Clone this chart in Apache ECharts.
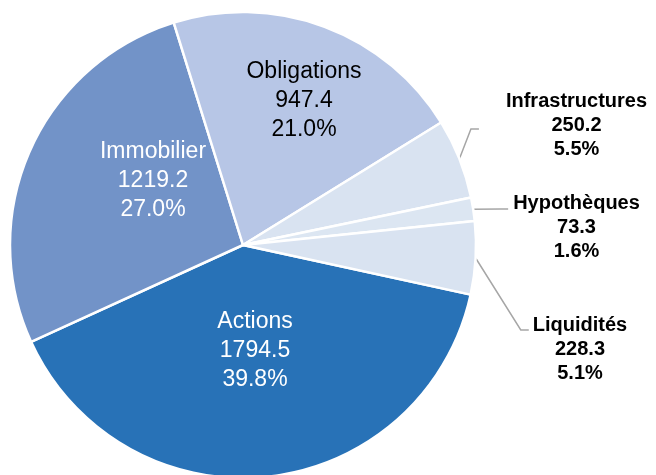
<!DOCTYPE html>
<html>
<head>
<meta charset="utf-8">
<script src="https://cdn.jsdelivr.net/npm/echarts@6/dist/echarts.min.js"></script>
<style>
  html, body { margin: 0; padding: 0; background: #fff; }
  #chart { width: 656px; height: 475px; }
</style>
</head>
<body>
<div id="chart"></div>
<script>
// categories and values, in drawing order (clockwise from the Actions slice)
const categories = ["Actions", "Immobilier", "Obligations", "Infrastructures", "Hypothèques", "Liquidités"];
const values = [1794.5, 1219.2, 947.4, 250.2, 73.3, 228.3];

const sliceColors = ["#2872b7", "#7293c8", "#b7c6e6", "#d9e3f1", "#dce6f2", "#d9e3f1"];
// where each label box is centred; for the outer ones that is where the leader line meets it
const labelSpots = [[255, 351], [153, 181], [304, 101], [563, 129], [574, 209], [578, 330]];
// padding of the outer labels, so the leader line stops short of the text
const outerPadding = [null, null, null, [0, 0, 8, 27], [0, 0, 0, 5], [0, 0, 0, 4]];
// blank space above the outer text, so the line meets the first line of text
const topSpacer = [0, 0, 0, 0, 36, 38];
const innerText = ["#fff", "#fff", "#000"];

const chart = echarts.init(document.getElementById("chart"));

const data = categories.map(function (name, i) {
  const item = { name: name, value: values[i], itemStyle: { color: sliceColors[i] } };
  if (outerPadding[i]) {
    item.label = {
      position: "outside",
      color: "#000",
      fontWeight: "bold",
      fontSize: 20,
      lineHeight: 24,
      padding: outerPadding[i],
      backgroundColor: "rgba(255,255,255,0)",
      rich: { s: { fontSize: 4, lineHeight: topSpacer[i] } }
    };
    item.labelLine = { show: true };
  } else {
    item.label = {
      position: "inside",
      color: innerText[i],
      fontSize: 23,
      lineHeight: 29
    };
    item.labelLine = { show: false };
  }
  return item;
});

chart.setOption({
  animation: false,
  series: [
    {
      type: "pie",
      center: [243, 245],
      radius: 233,
      startAngle: -12.3,
      clockwise: true,
      avoidLabelOverlap: false,
      percentPrecision: 1,
      itemStyle: { borderColor: "#fff", borderWidth: 2.5 },
      label: {
        fontFamily: "Liberation Sans, Arial, sans-serif",
        formatter: function (p) {
          const text = p.name + "\n" + p.value + "\n" + p.percent.toFixed(1) + "%";
          return topSpacer[p.dataIndex] ? "{s| }\n" + text : text;
        },
        align: "center"
      },
      labelLine: {
        length: 10,
        length2: 8,
        lineStyle: { color: "#a6a6a6", width: 1.5 }
      },
      labelLayout: function (params) {
        const p = labelSpots[params.dataIndex];
        return { x: p[0], y: p[1], align: "center", verticalAlign: "middle" };
      },
      emphasis: { disabled: true },
      data: data
    }
  ]
});
</script>
</body>
</html>
